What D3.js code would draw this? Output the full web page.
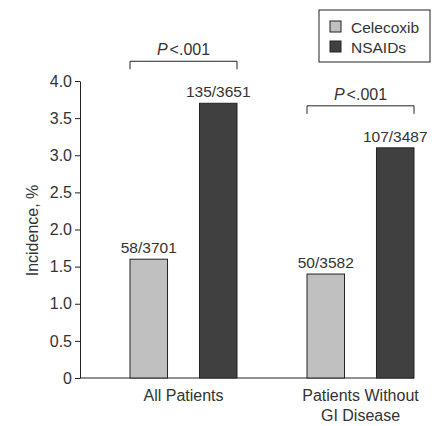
<!DOCTYPE html>
<html>
<head>
<meta charset="utf-8">
<script src="https://cdn.jsdelivr.net/npm/d3@7"></script>
<style>
    body { margin: 0; background: #fff; }
    svg text { font-family: "Liberation Sans", Arial, sans-serif; fill: #333; }
</style>
</head>
<body>
<div id="chart"></div>
<script>
// chart data
const groups = ['All Patients', 'Patients Without\nGI Disease'];
const seriesNames = ['Celecoxib', 'NSAIDs'];
const celecoxibValues = [1.6, 1.4];
const nsaidValues = [3.7, 3.1];
const celecoxibLabels = ['58/3701', '50/3582'];
const nsaidLabels = ['135/3651', '107/3487'];
const pLabels = ['<.001', '<.001'];
const yTicks = [0, 0.5, 1, 1.5, 2, 2.5, 3, 3.5, 4];

const width = 434, height = 426;
const fontSize = '16px';
const numSize = '15.5px';
const colors = {Celecoxib: '#c0c0c0', NSAIDs: '#404040'};

const data = groups.map((g, i) => ({
    group: g,
    values: [
        {key: 'Celecoxib', value: celecoxibValues[i], label: celecoxibLabels[i]},
        {key: 'NSAIDs', value: nsaidValues[i], label: nsaidLabels[i]}
    ],
    p: pLabels[i]
}));

const svg = d3.select('#chart').append('svg')
    .attr('width', width)
    .attr('height', height);

const yScale = d3.scaleLinear()
    .domain([0, 4])
    .range([378, 81]);

const groupScale = d3.scalePoint()
    .domain(groups)
    .range([183.5, 360.5]);

const innerScale = d3.scaleBand()
    .domain(seriesNames)
    .range([-53.5, 53.5])
    .paddingInner(0.46)
    .paddingOuter(0);

const axisLeft = 80;
const axisRight = groupScale(groups[1]) + innerScale.range()[1];

// y axis
const yAxis = d3.axisLeft(yScale)
    .tickValues(yTicks)
    .tickFormat(d => d === 0 ? '0' : d3.format('.1f')(d))
    .tickSize(5)
    .tickSizeOuter(0);

const gY = svg.append('g')
    .attr('transform', `translate(${axisLeft},0)`)
    .call(yAxis);
gY.select('.domain').attr('stroke', '#222');
gY.selectAll('.tick line').attr('stroke', '#222');
gY.selectAll('.tick text')
    .attr('x', -8)
    .style('font-size', fontSize)
    .attr('fill', '#333');

// x axis line
svg.append('line')
    .attr('x1', axisLeft).attr('x2', axisRight)
    .attr('y1', yScale(0)).attr('y2', yScale(0))
    .attr('stroke', '#222');

// y axis title
svg.append('text')
    .attr('transform', `translate(38,${(yScale(0) + yScale(4)) / 2 + 1}) rotate(-90)`)
    .attr('text-anchor', 'middle')
    .style('font-size', fontSize)
    .text('Incidence, %');

const gGroups = svg.append('g')
    .selectAll('g')
    .data(data)
    .enter().append('g')
    .attr('transform', d => `translate(${groupScale(d.group)},0)`);

gGroups.selectAll('rect')
    .data(d => d.values)
    .enter().append('rect')
    .attr('x', d => innerScale(d.key))
    .attr('y', d => yScale(d.value))
    .attr('width', innerScale.bandwidth())
    .attr('height', d => yScale(0) - yScale(d.value))
    .attr('fill', d => colors[d.key])
    .attr('stroke', '#222')
    .attr('stroke-width', 1);

gGroups.selectAll('.bar-label')
    .data(d => d.values)
    .enter().append('text')
    .attr('class', 'bar-label')
    .attr('x', d => innerScale(d.key) + innerScale.bandwidth() / 2)
    .attr('y', d => yScale(d.value) - 6)
    .attr('text-anchor', 'middle')
    .style('font-size', numSize)
    .text(d => d.label);

// group labels
gGroups.append('text')
    .attr('text-anchor', 'middle')
    .style('font-size', fontSize)
    .selectAll('tspan')
    .data(d => d.group.split('\n'))
    .enter().append('tspan')
    .attr('x', 0)
    .attr('y', (d, i) => 401 + i * 20)
    .text(d => d);

// significance brackets
gGroups.each(function (d) {
    const g = d3.select(this);
    const maxVal = d3.max(d.values, v => v.value);
    const top = yScale(maxVal) - 42;
    const x1 = innerScale(seriesNames[0]);
    const x2 = innerScale(seriesNames[1]) + innerScale.bandwidth();
    g.append('path')
        .attr('d', `M${x1},${top + 8}V${top}H${x2}V${top + 8}`)
        .attr('fill', 'none')
        .attr('stroke', '#222');
    const t = g.append('text')
        .attr('x', (x1 + x2) / 2)
        .attr('y', top - 6)
        .attr('text-anchor', 'middle')
        .style('font-size', fontSize);
    t.append('tspan').style('font-style', 'italic').text('P');
    t.append('tspan').attr('dx', 2).text(d.p);
});

// legend
const legend = svg.append('g').attr('transform', 'translate(319,10)');
legend.append('rect')
    .attr('width', 111).attr('height', 52)
    .attr('fill', '#fff').attr('stroke', '#222');
const items = legend.selectAll('.item')
    .data(seriesNames)
    .enter().append('g')
    .attr('transform', (d, i) => `translate(11,${11 + i * 20})`);
items.append('rect')
    .attr('width', 11).attr('height', 11)
    .attr('fill', d => colors[d])
    .attr('stroke', '#222');
items.append('text')
    .attr('x', 21).attr('y', 11.5)
    .style('font-size', numSize)
    .text(d => d);
</script>
</body>
</html>
